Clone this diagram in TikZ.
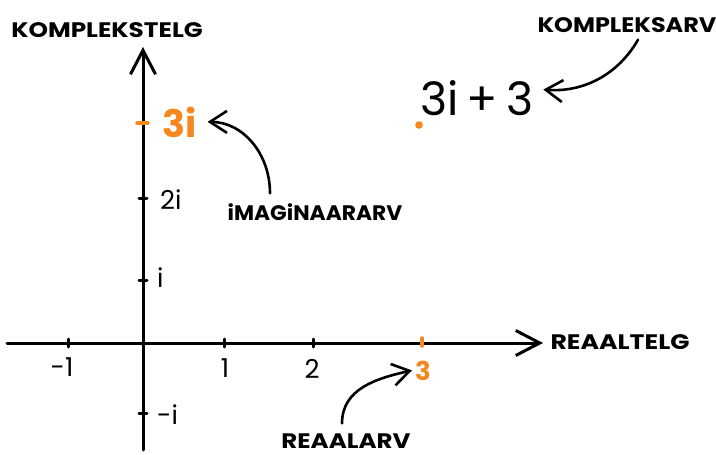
\documentclass[tikz,border=0pt]{standalone}
\usepackage{fontspec}
\setmainfont{Poppins}
\usetikzlibrary{arrows.meta}
\definecolor{org}{RGB}{245,135,30}
\newcommand{\wide}[2][1.15]{\scalebox{#1}[1]{#2}}
\begin{document}
\begin{tikzpicture}[x=1pt,y=-1pt, line cap=round, line join=round,
 axis/.style={line width=3pt, -{Straight Barb[length=24pt,width=25pt,line width=3pt]}},
 callout/.style={line width=2.6pt, -{Straight Barb[length=17pt,width=22pt,line width=2.6pt]}},
 lbl/.style={font=\bfseries\fontsize{21}{21}\selectfont, inner sep=0pt},
 num/.style={font=\fontsize{26}{26}\selectfont, inner sep=0pt},
 tickmark/.style={line width=3pt},
 otick/.style={line width=3.5pt, draw=org}]
\useasboundingbox (0,0) rectangle (716,455);
% axes
\coordinate (xs) at (7,343); \coordinate (xe) at (543,343);
\coordinate (ys) at (143,450); \coordinate (ye) at (143,47);
\draw[axis] (xs) -- (xe);
\draw[axis] (ys) -- (ye);
% ticks
\draw[tickmark] (68,339) -- (68,347);
\draw[tickmark] (224,339) -- (224,347);
\draw[tickmark] (313,339) -- (313,347);
\draw[otick] (422,338) -- (422,346);
\draw[tickmark] (139,280) -- (147,280);
\draw[tickmark] (139,198) -- (147,198);
\draw[tickmark] (139,413) -- (147,413);
\draw[otick] (137,123) -- (148,123);
% tick labels
\node[num, anchor=base] (mone) at (62,376) {-1};
\node[num, anchor=base] (one) at (225,377) {1};
\node[num, anchor=base] (two) at (312,378) {2};
\node[num, anchor=base, text=org, font=\bfseries\fontsize{26}{26}\selectfont] (threex) at (423,380) {3};
\node[num, anchor=base west] (ione) at (157,287) {i};
\node[num, anchor=base west] (itwo) at (160,209) {2i};
\node[num, anchor=base west] (imone) at (157,424) {-i};
\node[num, anchor=base west, text=org, font=\bfseries\fontsize{38}{38}\selectfont] (threei) at (162,137) {3i};
% complex number
\fill[org] (419,125) circle (3.8pt);
\node[num, anchor=base, font=\fontsize{46}{46}\selectfont] (cplx) at (477,115) {3i\,+\,3};
% axis and callout labels
\node[lbl] (ktelg) at (107,30) {\wide[1.18]{KOMPLEKSTELG}};
\node[lbl] (rtelg) at (620,342) {\wide[1.2]{REAALTELG}};
\node[lbl] (karv) at (627,25) {\wide[1.14]{KOMPLEKSARV}};
\node[lbl] (imag) at (315,212) {\wide[1.04]{iMAGiNAARARV}};
\node[lbl] (rarv) at (346,441) {\wide[1.17]{REAALARV}};
% callouts
\draw[callout] ([xshift=-45pt,yshift=10pt]imag.north) .. controls +(0,-40) and +(35,0) .. ([xshift=11pt]threei.east);
\draw[callout] ([xshift=11pt,yshift=-7pt]karv.south) .. controls +(-20,35) and +(40,3) .. ([xshift=10pt,yshift=8pt]cplx.east);
\draw[callout] ([xshift=-4pt,yshift=10pt]rarv.north) .. controls +(0,-35) and +(-35,8) .. ([xshift=-3pt]threex.west);
\end{tikzpicture}
\end{document}
